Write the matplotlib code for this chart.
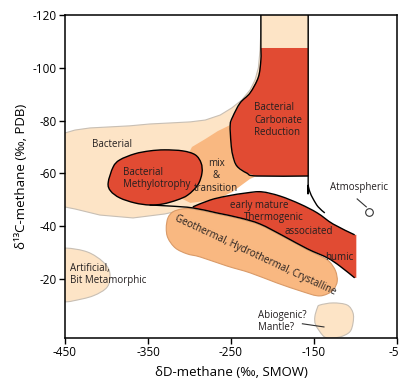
import matplotlib
matplotlib.use("Agg")
import matplotlib.pyplot as plt
from matplotlib.path import Path
from matplotlib.patches import PathPatch, Polygon
import numpy as np

plt.rcParams['font.family'] = ['Open Sans', 'DejaVu Sans']

# ---------------- data (δD-methane, δ13C-methane) ----------------
x_ticks = [-450, -350, -250, -150, -50]
y_ticks = [-120, -100, -80, -60, -40, -20]

bacterial_x = [-462, -450, -438, -420, -396, -372, -348, -323, -299, -281, -263, -249, -237, -227, -221,
               -217, -215, -214, -214, -157, -157, -227, -239, -257, -281, -296, -330, -368, -408, -438, -462]
bacterial_y = [-75.3, -75.3, -76.4, -77.2, -77.6, -78.0, -78.7, -79.1, -79.5, -80.2, -82.1, -84.8, -87.8, -91.6, -95.4,
               -100, -106.7, -114.3, -124, -124, -59, -59, -56, -52.2, -47.6, -46.9, -44.6, -43.1, -44.2, -46.5, -48]

carb_x = [-214, -157, -157, -219, -231, -243, -248, -250, -251, -248, -239, -227, -217, -214]
carb_y = [-107.5, -107.5, -59, -59, -60.1, -62.8, -67, -71.5, -78.3, -81.4, -86.7, -90.5, -96.5, -103]

carb_left_x = [-214, -214, -214, -217, -227, -239, -248, -251, -250, -248, -243, -231, -219, -157]
carb_left_y = [-124, -107.5, -103, -96.5, -90.5, -86.7, -81.4, -78.3, -71.5, -67, -62.8, -60.1, -59, -59]
carb_right_x = [-157, -157, -157, -155, -151, -145, -137]
carb_right_y = [-124, -59, -55.6, -53, -50.3, -47.3, -45]

mix_x = [-251, -250, -248, -243, -231, -219, -227, -237, -248, -261, -281, -299, -311, -305, -297, -281, -266]
mix_y = [-78.3, -71.5, -67, -62.8, -60.1, -59, -57.9, -55.6, -53, -51.1, -49.5, -48.8, -50.7, -65.1, -70, -73, -76]

methyl_x = [-398, -392, -384, -366, -348, -330, -308, -293, -286, -285, -290, -302, -315, -332, -348, -366, -384, -395]
methyl_y = [-56.4, -62.4, -65.1, -67.4, -68.5, -68.9, -68.5, -67, -63.9, -60.1, -55.6, -51.8, -49.9, -48.4, -48, -48.8,
            -50.7, -53.3]

thermo_top_x = [-296, -275, -255, -231, -213, -191, -167, -146, -127, -101]
thermo_top_y = [-47.3, -49.9, -51.4, -52.6, -53, -51.4, -48.4, -45, -40.8, -36.7]
thermo_bot_x = [-348, -323, -296, -267, -239, -215, -187, -158, -134, -119, -101]
thermo_bot_y = [-48, -47.6, -46.9, -45, -43.1, -40.8, -36.3, -31.4, -28, -24.9, -20.4]

geo_x = [-296, -267, -239, -215, -187, -158, -140, -131, -124, -122, -126, -134, -146, -167, -195, -227, -255,
         -287, -303, -317, -326, -328, -326, -320, -309]
geo_y = [-46.5, -44.6, -42.7, -40.4, -35.9, -31, -28.3, -26.4, -23, -19.2, -16.2, -14.3, -13.6, -15.5, -18.5,
         -22.3, -24.9, -28.3, -29.5, -31.7, -35.5, -39.3, -43.1, -45.4, -46.5]

artif_x = [-480, -450, -423, -404, -396, -399, -416, -440, -450, -480]
artif_y = [-31, -31.7, -30.2, -26.4, -22.3, -17, -13.6, -11.7, -11.3, -10.9]

abio_x = [-143, -127, -110, -103, -103, -107, -119, -134, -140, -148, -149, -146]
abio_y = [-10.1, -10.9, -10.1, -7.1, -3.3, 0.1, 2, 2.3, 1.2, -2.6, -5.6, -9]

atmos_pt = (-84, -45.4)
atmos_leader_x = [-98, -87]
atmos_leader_y = [-50.3, -47.3]
abio_leader_x = [-164, -138]
abio_leader_y = [-3, -1.8]

RED = '#e14b33'
ORANGE = '#f9b881'
LIGHT = '#fde4c6'
TXT = '#231f20'


def smooth_closed(xs, ys):
    pts = np.column_stack([xs, ys]).astype(float)
    n = len(pts)
    verts = [pts[0]]
    codes = [Path.MOVETO]
    for i in range(n):
        p0 = pts[(i - 1) % n]
        p1 = pts[i]
        p2 = pts[(i + 1) % n]
        p3 = pts[(i + 2) % n]
        c1 = p1 + (p2 - p0) / 6.0
        c2 = p2 - (p3 - p1) / 6.0
        verts += [c1, c2, p2]
        codes += [Path.CURVE4] * 3
    return Path(verts, codes)


def smooth_open(xs, ys):
    pts = np.column_stack([xs, ys]).astype(float)
    n = len(pts)
    verts = [pts[0]]
    codes = [Path.MOVETO]
    for i in range(n - 1):
        p0 = pts[max(i - 1, 0)]
        p1 = pts[i]
        p2 = pts[i + 1]
        p3 = pts[min(i + 2, n - 1)]
        c1 = p1 + (p2 - p0) / 6.0
        c2 = p2 - (p3 - p1) / 6.0
        verts += [c1, c2, p2]
        codes += [Path.CURVE4] * 3
    return Path(verts, codes)


fig = plt.figure(figsize=(3.99, 3.78), dpi=100)
ax = fig.add_axes([65 / 399, 1 - 337.5 / 378, 332 / 399, 322.5 / 378])

# Bacterial field
ax.add_patch(Polygon(np.column_stack([bacterial_x, bacterial_y]), closed=True, facecolor=LIGHT,
                     edgecolor='#c8bfb4', lw=0.8, zorder=1, joinstyle='round'))
# mix & transition
ax.add_patch(Polygon(np.column_stack([mix_x, mix_y]), closed=True, facecolor=ORANGE,
                     edgecolor='none', zorder=2))
# carbonate reduction
ax.add_patch(Polygon(np.column_stack([carb_x, carb_y]), closed=True, facecolor=RED,
                     edgecolor='none', zorder=3))
ax.add_patch(PathPatch(smooth_open(carb_left_x, carb_left_y), facecolor='none', edgecolor='black',
                       lw=1.0, zorder=6))
ax.add_patch(PathPatch(smooth_open(carb_right_x, carb_right_y), facecolor='none', edgecolor='black',
                       lw=1.0, zorder=6))
# methylotrophy
ax.add_patch(PathPatch(smooth_closed(methyl_x, methyl_y), facecolor=RED, edgecolor='black',
                       lw=1.0, zorder=4))
# thermogenic
th_x = thermo_top_x + [thermo_top_x[-1] + 2, thermo_bot_x[-1] + 2] + thermo_bot_x[::-1][:-2]
th_y = thermo_top_y + [thermo_top_y[-1], thermo_bot_y[-1]] + thermo_bot_y[::-1][:-2]
ax.add_patch(Polygon(np.column_stack([th_x, th_y]), closed=True, facecolor=RED, edgecolor='none', zorder=4))
# geothermal
ax.add_patch(PathPatch(smooth_closed(geo_x, geo_y), facecolor=ORANGE, edgecolor='#d99a68',
                       lw=0.8, zorder=5))
ax.add_patch(PathPatch(smooth_open(thermo_top_x, thermo_top_y), facecolor='none', edgecolor='black',
                       lw=1.0, zorder=6))
ax.add_patch(PathPatch(smooth_open(thermo_bot_x, thermo_bot_y), facecolor='none', edgecolor='black',
                       lw=1.0, zorder=6))
# artificial
ax.add_patch(PathPatch(smooth_closed(artif_x, artif_y), facecolor=LIGHT, edgecolor='#c8bfb4',
                       lw=0.8, zorder=2))
# abiogenic
ax.add_patch(PathPatch(smooth_closed(abio_x, abio_y), facecolor=LIGHT, edgecolor='#c8bfb4',
                       lw=0.8, zorder=2))

# atmospheric
ax.plot([atmos_pt[0]], [atmos_pt[1]], 'o', ms=5.5, mfc='white', mec='#333333', mew=0.8, zorder=7)
ax.plot(atmos_leader_x, atmos_leader_y, color='#333333', lw=0.8, zorder=7)
ax.plot(abio_leader_x, abio_leader_y, color='#333333', lw=0.8, zorder=7)

fs = 7
tk = dict(color=TXT, fontsize=fs, zorder=10, linespacing=1.15)
ax.text(-417.5, -71.1, 'Bacterial', ha='left', va='center', **tk)
ax.text(-380, -58.1, 'Bacterial\nMethylotrophy', ha='left', va='center', **tk)
ax.text(-268, -59, 'mix\n&\ntransition', ha='center', va='center', **tk)
ax.text(-222, -80.2, 'Bacterial\nCarbonate\nReduction', ha='left', va='center', **tk)
ax.text(-96, -54.8, 'Atmospheric', ha='center', va='center', **tk)
ax.text(-216, -48, 'early mature', ha='center', va='center', **tk)
ax.text(-198, -43.1, 'Thermogenic', ha='center', va='center', **tk)
ax.text(-156, -37.8, 'associated', ha='center', va='center', **tk)
ax.text(-120, -28, 'humic', ha='center', va='center', **tk)
ax.text(-221, -28.9, 'Geothermal, Hydrothermal, Crystalline', ha='center', va='center',
        rotation=-25, rotation_mode='anchor', **tk)
ax.text(-444, -21.7, 'Artificial,\nBit Metamorphic', ha='left', va='center', **tk)
ax.text(-217, -4, 'Abiogenic?\nMantle?', ha='left', va='center', **tk)

ax.set_xlim(-450, -50)
ax.set_ylim(2.2, -120)
ax.set_xticks(x_ticks)
ax.set_xticklabels([str(v) for v in x_ticks])
ax.set_yticks(y_ticks)
ax.set_yticklabels([str(v) for v in y_ticks])
ax.tick_params(direction='out', length=4.5, width=1.0, labelsize=8.5, pad=1.5, colors='black')
for s in ax.spines.values():
    s.set_linewidth(1.1)
ax.set_xlabel('δD-methane (‰, SMOW)', fontsize=9.5, labelpad=5)
ax.set_ylabel('δ¹³C-methane (‰, PDB)', fontsize=9.5, labelpad=3)

fig.savefig('out.png', dpi=100)
